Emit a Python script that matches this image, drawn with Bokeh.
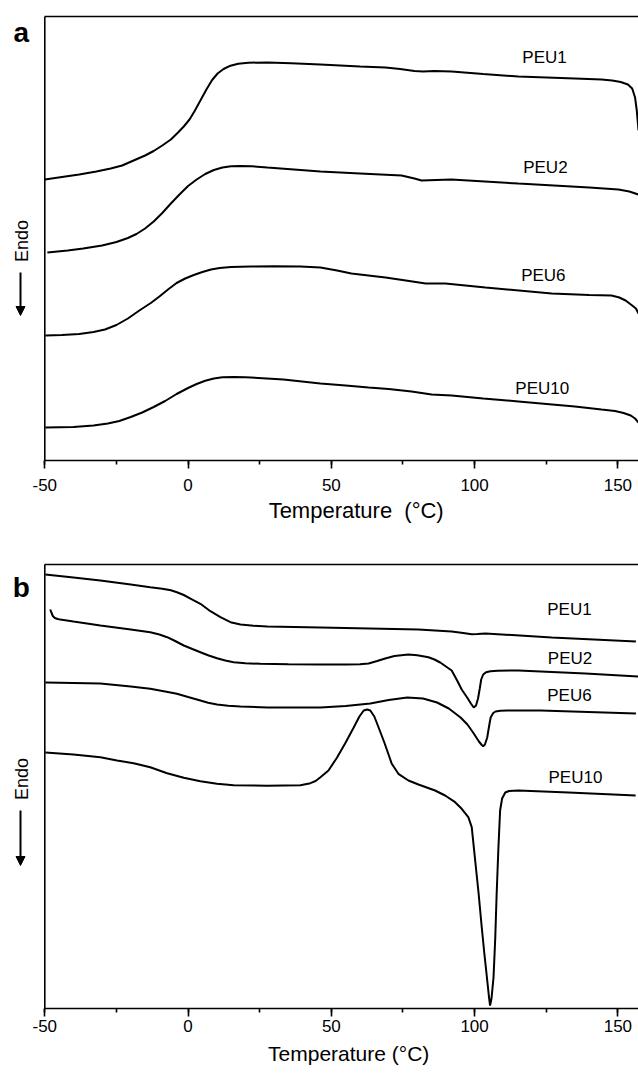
from bokeh.plotting import figure
from bokeh.models import Range1d, Span, Label, Arrow, NormalHead, SingleIntervalTicker, LinearAxis, FixedTicker
from bokeh.layouts import column
from bokeh.embed import file_html
from bokeh.resources import INLINE

FONT = "Liberation Sans"

# ---------------- Panel a (heat flow, arbitrary units, curves offset) ----------------
a_peu1_t = [-50, -44, -38, -32, -27, -23, -19, -15, -12, -9, -6, -3.5, -1.5, 0.5, 2.2, 4.3, 6.4, 8.4, 10.3, 12.4, 14.8, 17.5, 21, 27.7, 36, 46.2, 60, 68.9, 74, 79, 82, 86, 92, 103, 115.3, 135, 144.3, 148, 151, 153.5, 155, 156, 156.6, 157.2]
a_peu1_v = [281, 283.5, 286, 289, 292, 295, 300, 305, 309.5, 315, 321, 328, 334, 341, 349, 360, 371, 380.5, 387, 391.5, 394.8, 396.8, 397.8, 398, 397.3, 396, 394, 393, 391.5, 389.5, 389, 389.5, 389, 386.5, 384, 382, 381, 380, 378.5, 376, 372, 363, 350, 330]

a_peu2_t = [-49.1, -42, -36.6, -30, -25, -21, -18, -15, -12, -9, -6, -3, 0, 3, 6, 9, 12, 15, 18.3, 22, 27.7, 46.2, 60, 74.5, 79, 81.5, 91.9, 115.3, 140, 150.2, 154, 157.2]
a_peu2_v = [208, 210, 212, 215, 218.5, 222.5, 226.5, 232, 239, 247.5, 257, 266, 274.5, 281, 286.5, 290.5, 293, 294.3, 294.5, 294.3, 293, 289, 287, 285, 282, 280, 281, 277, 273, 271, 269, 266]

a_peu6_t = [-49.8, -44, -38, -33, -29, -25, -21, -17, -13, -10, -7, -4, -1, 2, 5, 8, 11, 15, 21.8, 30, 39.2, 46.2, 52, 57, 68.9, 76, 82.9, 89.8, 103.8, 126.9, 140, 147.8, 150.5, 152.7, 155, 156.3, 157.2]
a_peu6_v = [125, 125.5, 126.5, 128.5, 131, 135.5, 142, 150, 157.5, 164, 171, 177.5, 182, 185.5, 188.5, 191, 192.5, 193.5, 194, 194.2, 194, 193, 190, 187, 183, 180, 177, 177, 173, 167, 165.5, 165, 163, 160, 155, 152, 147]

a_peu10_t = [-49.8, -40, -33, -28, -24, -20, -16, -12, -8, -4, 0, 3, 6, 9, 12, 16, 20, 26, 33.3, 46.2, 55, 63, 70, 78, 85, 92, 103, 115.3, 135, 144.3, 149, 152, 154.5, 156, 157.2]
a_peu10_v = [33, 33.5, 35, 37, 39.5, 43.5, 48, 53.5, 59.5, 66.5, 72.5, 76.5, 79.8, 82, 83.2, 83.5, 83.3, 82.3, 81, 77, 75, 73, 71.5, 69, 66, 65, 62, 59, 54, 51, 49.5, 47.5, 45, 42, 38]

# ---------------- Panel b ----------------
b_peu1_t = [-49.8, -40, -30.6, -20, -13.2, -9, -6, -3.9, -1.5, 1, 4.3, 7.8, 11.3, 14.8, 18.3, 22.9, 27.7, 46.2, 80.4, 92, 96, 99, 101, 103.8, 126.9, 156.3]
b_peu1_v = [434, 431, 428, 424, 421.3, 419.8, 418.3, 416.3, 413.5, 409.7, 404.7, 397.3, 391.3, 386.3, 384, 382.7, 382, 381, 379, 377, 375.5, 374.2, 374.5, 375, 371, 367]

b_peu2_t = [-48.1, -47.7, -47.2, -46.5, -45.5, -44.6, -40, -30.6, -20, -13.2, -10, -7.3, -4.5, -1.5, 1.5, 4.3, 7.2, 10.1, 13, 15.9, 20, 25.2, 35, 46.2, 55, 60, 63, 66, 68.8, 72, 76.9, 80, 83.9, 86, 88, 90, 92, 93.9, 95.5, 97.4, 98.7, 99.7, 100.5, 101.2, 101.8, 102.3, 103, 104, 105.5, 108, 115.3, 138.7, 157.2]
b_peu2_v = [399, 396, 392.5, 390.5, 389.5, 389, 387, 383, 379, 376.3, 374, 371.3, 367.5, 363, 359.5, 356.3, 353, 350.3, 348, 346.3, 345.3, 344.7, 344.2, 344, 344, 344.3, 345, 347.5, 350, 352.5, 354, 353.3, 351.3, 349, 346, 342, 338, 328, 319, 311, 305, 301, 303, 310, 320, 329, 334, 336.3, 337.3, 337.8, 338, 335, 332]

b_peu6_t = [-49.8, -40, -30.6, -20, -13.2, -8, -3.9, 0, 4.3, 7, 10.1, 14, 18.3, 27.7, 46.2, 55, 63.6, 70, 76.5, 82, 86.9, 91, 95.1, 97.5, 99.7, 101.5, 102.5, 103, 103.6, 104.4, 105.1, 105.6, 106.5, 107.3, 109, 111.4, 123, 156.3]
b_peu6_v = [326, 325.5, 325, 322, 319.7, 317, 314.7, 311.5, 308, 305.8, 304, 302.8, 302, 301, 301, 302.5, 305, 308.5, 311, 310, 306, 300, 291, 284, 275, 267, 263.5, 262.3, 264, 271, 283, 291, 295.5, 297, 297.8, 298, 298, 295]

b_peu10_t = [-49.8, -40, -30.6, -24.8, -19.0, -13.2, -7.3, -1.5, 4.3, 10.1, 15.9, 27.6, 39.2, 42.7, 44.5, 46.2, 49, 52, 55, 57.8, 59.8, 61.3, 62.5, 63.6, 65, 66.5, 68.5, 71.1, 73.4, 76.9, 80.4, 86.2, 89.7, 93.2, 95.5, 97.8, 99.0, 100.2, 101.4, 102.5, 103.4, 104.3, 105, 105.4, 105.9, 106.6, 107.2, 107.7, 108.3, 108.9, 109.6, 110.7, 112, 115.3, 132.8, 156.2]
b_peu10_v = [256, 254, 251.3, 248, 245.3, 241.3, 235.3, 230.7, 227.3, 224.7, 223.3, 222.7, 223.3, 225.3, 227.5, 231.3, 238, 251, 266, 281, 292, 298, 299, 298, 292, 281, 266, 244.7, 234.7, 228, 224, 218, 213, 206.3, 199.7, 191.3, 181.3, 148, 115, 81, 55, 31, 12, 3, 10, 31, 70, 115, 160, 198, 210, 216, 217.5, 218, 216, 213]

series_names = ["PEU1", "PEU2", "PEU6", "PEU10"]
a_label_t = [124.4, 124.7, 124.0, 123.6]
a_label_v = [403, 293.5, 185, 72.5]
b_label_t = [133.1, 133.3, 133.1, 135.2]
b_label_v = [399.5, 350, 313, 231.5]

x_major = [-50, 0, 50, 100, 150]
x_major_labels = ["-50", "0", "50", "100", "150"]
X_AXIS_START = -50
X_LEFT, X_MAX = -65.46, 157.2
Y_MIN, Y_MAX = 0, 444

NBSP = "\u00a0"


def make_panel(height, top, bottom, curves, lab_t, lab_v, letter, letter_v, title, title_size,
               endo_v, arrow_v0, arrow_v1, tick_standoff, title_standoff):
    p = figure(width=638, height=height, output_backend="svg", toolbar_location=None,
               x_range=Range1d(X_LEFT, X_MAX), y_range=Range1d(Y_MIN, Y_MAX),
               min_border_left=0, min_border_right=0, min_border_top=top,
               min_border_bottom=bottom)
    p.outline_line_color = None
    p.grid.visible = False
    p.yaxis.visible = False
    p.background_fill_color = "white"
    p.border_fill_color = "white"

    for t, v in curves:
        p.line(t, v, line_color="black", line_width=2)

    xa = p.xaxis[0]
    xa.bounds = (X_AXIS_START, X_MAX)
    xa.ticker = SingleIntervalTicker(interval=50, num_minor_ticks=2)
    xa.major_label_overrides = {k: s for k, s in zip(x_major, x_major_labels)}
    xa.axis_line_width = 1.6
    xa.major_tick_line_width = 1.6
    xa.minor_tick_line_width = 1.6
    xa.major_tick_in = 0
    xa.major_tick_out = 8
    xa.minor_tick_in = 0
    xa.minor_tick_out = 4
    xa.major_label_standoff = tick_standoff
    xa.major_label_text_font = FONT
    xa.major_label_text_font_size = "17px"
    xa.major_label_text_color = "black"
    xa.axis_label = title
    xa.axis_label_text_font = FONT
    xa.axis_label_text_font_size = title_size
    xa.axis_label_text_font_style = "normal"
    xa.axis_label_text_color = "black"
    xa.axis_label_standoff = title_standoff

    top_ax = LinearAxis(bounds=(X_AXIS_START, X_MAX), ticker=FixedTicker(ticks=[]),
                        major_label_text_font_size="0px", major_tick_out=0, major_tick_in=0,
                        minor_tick_out=0, minor_tick_in=0, major_label_standoff=0,
                        axis_line_width=1.6, axis_line_color="black")
    p.add_layout(top_ax, "above")

    p.add_layout(Span(location=X_AXIS_START, dimension="height", line_color="black", line_width=1.6))

    for name, t, v in zip(series_names, lab_t, lab_v):
        p.add_layout(Label(x=t, y=v, text=name, text_align="center", text_baseline="middle",
                           text_font=FONT, text_font_size="17px", text_color="black"))

    p.add_layout(Label(x=-57.96, y=endo_v, text="Endo", angle=1.5707963, text_align="center",
                       text_baseline="middle", text_font=FONT, text_font_size="18px",
                       text_color="black"))
    p.add_layout(Arrow(x_start=-58.48, y_start=arrow_v0, x_end=-58.48, y_end=arrow_v1,
                       line_width=2, line_color="black",
                       end=NormalHead(size=9, fill_color="black", line_color="black", line_width=1)))
    p.add_layout(Label(x=-58.2, y=letter_v, text=letter, text_align="center",
                       text_baseline="alphabetic", text_font=FONT, text_font_size="28px",
                       text_font_style="bold", text_color="black"))
    return p


title_a = NBSP * 12 + "Temperature" + NBSP * 2 + "(°C)"
title_b = NBSP * 10 + "Temperature (°C)"

pa = make_panel(540, 16, 80,
                [(a_peu1_t, a_peu1_v), (a_peu2_t, a_peu2_v), (a_peu6_t, a_peu6_v), (a_peu10_t, a_peu10_v)],
                a_label_t, a_label_v, "a", 428, title_a, "22px", 219.5, 188, 145, 10, 4)
pb = make_panel(534, 24, 66,
                [(b_peu1_t, b_peu1_v), (b_peu2_t, b_peu2_v), (b_peu6_t, b_peu6_v), (b_peu10_t, b_peu10_v)],
                b_label_t, b_label_v, "b", 421.3, title_b, "21px", 229.5, 198, 143, 3, 7)

layout = column(pa, pb, spacing=0)
open("out.html", "w").write(file_html(layout, INLINE))
